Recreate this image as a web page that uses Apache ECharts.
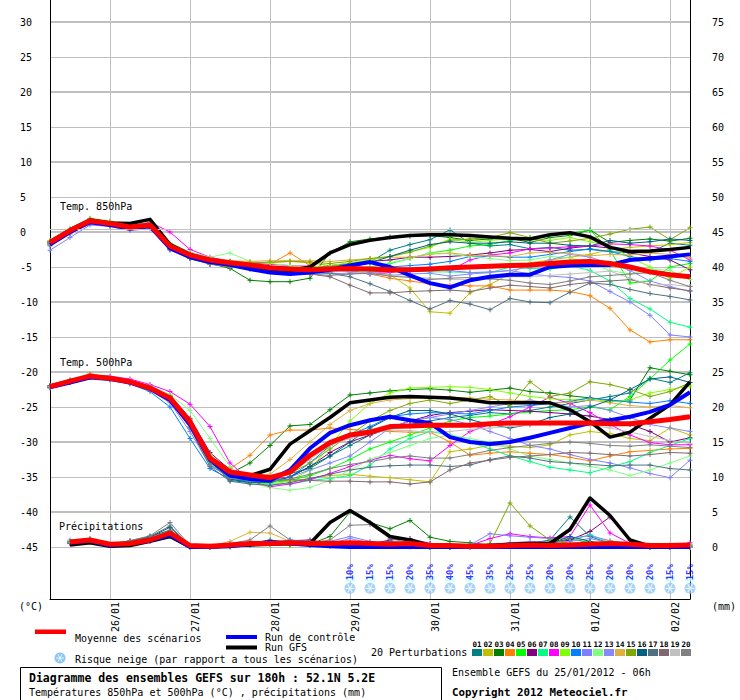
<!DOCTYPE html>
<html><head><meta charset="utf-8">
<script src="https://cdn.jsdelivr.net/npm/echarts@6.0.0/dist/echarts.min.js"></script>
<style>html,body{margin:0;padding:0;background:#fff}#c{width:740px;height:700px}</style>
</head><body><div id="c"></div>
<script>
// ---------- DATA ----------
const dayLabels = ['26/01','27/01','28/01','29/01','30/01','31/01','01/02','02/02'];
const memberNames = ['01','02','03','04','05','06','07','08','09','10','11','12','13','14','15','16','17','18','19','20'];
const memberColors = ['#008080','#c0c000','#008000','#ff8000','#00ff00','#800080','#00ff80','#ff00ff','#80ff00','#0080ff',
                      '#8080ff','#80ff80','#8888ff','#e0b040','#80a800','#006080','#507080','#806870','#c0c0c0','#808080'];
const yTicksLeft = [-45,30];   // labelled range (°C)
const yTicksRight = [0,75];    // labelled range (mm)

const t850Mean    = [-1.5,0.2,1.6,1.2,0.7,1.0,-2.0,-3.3,-4.0,-4.4,-4.7,-5.1,-5.3,-5.4,-5.3,-5.2,-5.3,-5.4,-5.4,-5.3,-5.1,-5.0,-4.9,-4.8,-4.7,-4.5,-4.3,-4.2,-4.5,-5.0,-5.7,-6.1,-6.4];
const t850Control = [-1.8,0.0,1.4,1.0,0.5,0.8,-2.3,-3.6,-4.3,-4.7,-5.3,-5.8,-6.0,-5.8,-5.4,-4.8,-4.3,-5.0,-6.2,-7.3,-7.9,-6.9,-6.4,-6.1,-6.1,-5.0,-4.8,-4.7,-4.7,-4.0,-3.8,-3.5,-3.2];
const t850Gfs     = [-1.4,0.3,1.7,1.3,1.2,1.8,-1.8,-3.2,-4.0,-4.4,-4.8,-5.3,-5.5,-5.0,-3.0,-1.8,-1.2,-0.8,-0.5,-0.4,-0.4,-0.5,-0.7,-0.9,-1.0,-0.4,-0.1,-0.7,-2.2,-2.8,-2.7,-2.5,-2.2];
const t850Members = [
 [-1.3,0.4,1.8,1.3,0.9,1.2,-1.8,-3.0,-4.6,-4.5,-4.8,-5.0,-5.5,-5.2,-5.0,-4.6,-4.3,-2.6,-1.8,-1.1,0.3,-1.6,-2.0,-1.8,-2.4,-2.2,-2.6,-2.5,-2.8,-3.0,-2.9,-1.6,-1.9],
 [-1.6,0.1,1.5,1.1,0.6,0.9,-2.2,-3.4,-4.1,-4.2,-4.3,-4.4,-4.2,-4.4,-4.8,-5.0,-5.5,-6.1,-8.0,-11.4,-11.6,-8.7,-7.5,-6.0,-4.4,-4.0,-3.6,-3.2,-2.5,-2.2,-2.0,-1.8,-1.5],
 [-1.7,0.0,1.4,1.0,0.5,0.8,-2.4,-3.8,-4.5,-5.2,-6.9,-7.1,-7.1,-6.6,-3.0,-1.4,-1.0,-0.7,-0.6,-0.5,-0.8,-1.2,-1.0,-0.9,-1.5,-0.8,-0.5,0.3,-1.5,-1.2,-1.0,-1.3,-0.9],
 [-1.4,0.3,1.7,1.4,0.8,1.1,-1.9,-3.2,-4.1,-4.4,-4.5,-4.6,-3.0,-4.8,-5.2,-5.5,-6.0,-6.6,-7.0,-7.4,-7.6,-7.7,-7.7,-8.3,-8.3,-8.3,-8.5,-9.1,-10.9,-14.0,-15.7,-15.4,-15.4],
 [-1.5,0.2,1.6,1.3,0.8,1.0,-2.1,-3.2,-3.9,-4.3,-4.6,-5.0,-5.3,-5.4,-5.2,-5.3,-5.0,-4.5,-3.8,-3.0,-2.6,-2.0,-1.8,-1.2,-0.8,-0.5,-0.2,0.3,-2.6,-7.3,-7.0,-5.0,-4.5],
 [-1.4,0.3,1.9,1.5,1.0,1.3,-1.7,-3.1,-3.9,-4.3,-4.5,-4.9,-5.0,-5.2,-4.8,-4.5,-4.2,-4.0,-3.6,-3.6,-3.5,-3.3,-3.0,-2.6,-2.5,-2.8,-2.3,-2.0,-2.3,-3.0,-3.5,-4.0,-5.4],
 [-1.6,0.1,1.4,1.1,0.6,0.9,-2.2,-3.5,-4.2,-4.6,-4.9,-5.3,-5.5,-5.6,-5.5,-5.5,-5.6,-5.7,-5.6,-5.7,-5.7,-5.8,-5.8,-5.0,-5.2,-5.3,-4.8,-5.5,-7.0,-9.5,-11.0,-12.9,-13.6],
 [-1.5,0.2,1.6,1.2,0.7,1.4,0.0,-2.5,-3.6,-4.2,-4.5,-4.6,-4.8,-4.9,-5.3,-5.7,-6.0,-5.8,-5.5,-5.2,-5.5,-4.0,-3.3,-3.0,-2.4,-2.3,-2.1,-2.0,-1.7,-1.8,-2.0,-2.6,-4.0],
 [-1.5,0.2,1.7,1.3,0.8,1.1,-1.9,-3.1,-4.0,-4.4,-4.7,-4.9,-5.0,-5.0,-4.8,-4.4,-4.0,-3.5,-2.8,-2.2,-1.0,-1.5,-1.2,-1.0,-1.1,-1.2,-0.8,-1.4,-2.0,-3.6,-5.0,-6.6,-5.0],
 [-1.6,0.1,1.5,1.0,0.5,0.7,-2.4,-3.7,-4.3,-4.8,-5.1,-5.5,-5.9,-5.8,-5.7,-5.6,-5.5,-5.0,-4.8,-4.6,-4.2,-3.5,-3.4,-3.6,-3.6,-3.2,-2.8,-2.4,-2.8,-3.5,-4.0,-3.8,-4.2],
 [-2.6,-0.8,1.0,0.8,0.2,0.5,-2.6,-3.8,-4.5,-4.7,-5.0,-5.4,-5.6,-5.8,-5.9,-6.0,-5.8,-5.6,-5.3,-5.0,-5.5,-5.8,-5.7,-5.5,-6.0,-6.3,-6.5,-7.0,-8.5,-10.0,-11.9,-14.7,-15.0],
 [-1.2,0.5,2.0,1.6,1.0,1.3,-1.5,-2.9,-3.6,-3.0,-4.2,-4.5,-4.8,-5.0,-5.3,-5.5,-5.0,-4.4,-3.8,-3.0,-3.1,-3.5,-3.8,-4.1,-4.0,-3.5,-3.7,-4.5,-5.5,-6.0,-5.3,-5.5,-6.8],
 [-2.0,-0.3,1.3,1.0,0.5,0.8,-2.3,-3.6,-4.4,-4.7,-5.0,-5.3,-5.5,-5.6,-5.6,-5.7,-6.0,-6.2,-6.0,-5.9,-6.3,-6.0,-5.8,-5.5,-5.0,-4.0,-3.2,-3.6,-4.5,-5.5,-7.0,-7.8,-8.5],
 [-1.3,0.4,1.9,1.4,0.9,1.2,-1.8,-3.0,-3.8,-4.1,-4.2,-4.1,-4.1,-4.1,-4.2,-4.0,-3.8,-3.6,-3.6,-3.2,-3.0,-3.3,-3.4,-3.5,-3.0,-2.9,-3.1,-3.4,-3.2,-3.3,-3.0,-3.2,-3.7],
 [-1.4,0.3,1.8,1.4,0.9,1.1,-1.9,-3.2,-4.0,-4.3,-4.4,-4.3,-4.2,-4.3,-4.5,-4.2,-3.8,-3.5,-2.9,-2.0,-1.2,-1.0,-0.8,-0.1,-0.8,-1.6,-1.3,-0.9,-0.3,0.4,0.7,-1.1,0.6],
 [-1.6,0.1,1.5,1.1,0.6,0.9,-2.3,-3.6,-4.4,-4.6,-4.9,-5.3,-5.6,-5.5,-5.4,-5.0,-4.4,-3.5,-2.6,-1.8,-1.4,-1.6,-1.6,-1.4,-1.6,-1.6,-1.9,-2.0,-1.2,-1.6,-1.4,-1.0,-1.2],
 [-1.7,0.0,1.4,1.0,0.5,0.8,-2.4,-3.7,-4.5,-4.9,-5.2,-5.6,-5.8,-5.8,-5.9,-6.4,-7.4,-8.5,-9.8,-11.0,-9.8,-10.3,-11.1,-9.5,-10.0,-10.1,-8.6,-7.3,-7.5,-8.2,-8.8,-9.2,-9.7],
 [-1.8,-0.1,1.3,0.9,0.4,0.7,-2.5,-3.8,-4.6,-4.9,-5.3,-5.6,-5.9,-6.0,-6.4,-7.6,-8.7,-8.7,-8.5,-8.4,-8.3,-8.5,-8.0,-7.6,-7.8,-8.0,-7.5,-7.2,-7.0,-6.8,-7.5,-8.0,-8.4],
 [-1.7,0.0,1.5,1.1,0.6,0.9,-2.2,-3.5,-4.2,-4.6,-4.9,-5.2,-5.4,-5.5,-5.6,-5.7,-5.9,-6.2,-6.4,-6.6,-6.8,-6.8,-6.7,-6.4,-6.4,-6.2,-6.0,-5.8,-5.6,-6.6,-7.6,-7.5,-7.8],
 [-1.9,-0.2,1.2,0.9,0.4,0.7,-2.3,-3.7,-4.6,-5.0,-5.3,-5.6,-5.8,-6.0,-6.2,-6.0,-5.9,-6.3,-6.5,-6.8,-6.6,-6.5,-6.7,-6.9,-7.3,-7.5,-7.0,-6.4,-6.2,-6.0,-5.8,-6.9,-7.8]
];

const t500Mean    = [-22.1,-21.3,-20.6,-20.9,-21.4,-22.3,-23.7,-27.1,-32.3,-34.3,-34.7,-35.1,-34.3,-31.9,-30.1,-29.0,-28.6,-27.8,-27.7,-27.6,-27.6,-27.6,-27.4,-27.3,-27.3,-27.3,-27.3,-27.3,-27.4,-27.4,-27.1,-26.8,-26.4];
const t500Control = [-22.2,-21.5,-20.8,-21.0,-21.5,-22.4,-24.0,-27.5,-32.5,-34.8,-35.3,-35.5,-34.0,-30.9,-28.7,-27.6,-26.9,-26.4,-26.9,-27.3,-29.3,-30.0,-30.3,-30.0,-29.4,-28.7,-28.0,-27.3,-26.9,-26.4,-25.7,-24.7,-22.9];
const t500Gfs     = [-22.0,-21.3,-20.6,-20.9,-21.4,-22.3,-23.8,-27.3,-32.5,-34.5,-34.8,-33.9,-30.3,-28.4,-26.5,-24.4,-24.0,-23.6,-23.5,-23.6,-23.7,-24.0,-24.4,-24.4,-24.4,-24.4,-25.4,-27.1,-29.3,-28.6,-26.6,-24.7,-21.4];
const t500Members = [
 [-22.0,-21.2,-20.7,-20.9,-21.3,-22.2,-23.6,-26.8,-32.8,-35.5,-35.8,-35.2,-34.5,-33.8,-32.0,-30.5,-29.0,-28.0,-27.5,-27.0,-26.5,-26.2,-25.8,-26.0,-25.5,-25.0,-24.5,-24.0,-23.5,-23.0,-20.9,-21.5,-20.1],
 [-22.1,-21.3,-20.2,-20.9,-21.4,-22.3,-23.5,-27.5,-32.0,-34.6,-35.0,-35.4,-35.6,-35.2,-34.8,-34.6,-34.9,-35.1,-35.4,-35.7,-31.4,-31.0,-30.5,-30.6,-30.8,-30.4,-29.0,-28.5,-28.8,-29.5,-29.8,-28.0,-29.0],
 [-22.2,-21.4,-20.7,-21.0,-21.5,-22.4,-23.8,-27.2,-32.5,-34.5,-33.0,-30.5,-27.7,-27.5,-25.4,-23.3,-23.0,-22.7,-22.5,-22.4,-22.6,-22.9,-22.6,-22.3,-22.8,-23.0,-23.4,-23.7,-24.2,-24.0,-19.4,-19.9,-20.4],
 [-22.0,-21.2,-20.6,-20.8,-21.3,-22.2,-23.6,-27.0,-32.0,-33.8,-31.9,-29.0,-28.3,-28.3,-28.0,-28.2,-28.4,-28.5,-28.6,-28.6,-30.0,-31.9,-31.6,-31.4,-31.6,-31.8,-32.2,-32.7,-32.0,-31.4,-31.2,-31.0,-30.9],
 [-22.1,-21.3,-20.6,-20.9,-21.4,-22.3,-23.7,-27.2,-32.6,-34.8,-35.4,-35.8,-35.5,-34.8,-33.8,-32.5,-31.0,-30.0,-29.0,-28.0,-27.0,-26.5,-26.3,-26.0,-25.7,-25.5,-25.4,-25.0,-25.4,-23.5,-21.0,-18.3,-16.0],
 [-22.0,-21.2,-20.5,-20.8,-21.2,-22.0,-23.4,-26.6,-31.5,-34.0,-35.0,-35.3,-35.0,-33.5,-31.5,-30.0,-29.0,-28.0,-27.0,-26.2,-25.8,-25.6,-25.4,-25.5,-25.6,-25.8,-26.0,-26.3,-26.8,-27.5,-28.5,-30.0,-29.4],
 [-22.2,-21.4,-20.7,-21.0,-21.5,-22.4,-24.0,-27.8,-33.0,-35.2,-35.8,-36.0,-36.0,-35.5,-35.2,-34.8,-33.3,-31.0,-29.5,-28.5,-29.0,-30.0,-31.0,-32.0,-32.8,-33.6,-34.0,-34.4,-33.6,-32.8,-31.5,-30.5,-29.5],
 [-22.0,-21.1,-20.4,-20.6,-21.0,-21.8,-22.8,-24.6,-27.8,-33.0,-35.5,-36.4,-36.0,-35.4,-34.5,-33.5,-32.6,-31.9,-32.4,-32.7,-30.5,-28.5,-27.5,-26.4,-25.0,-23.6,-24.5,-25.8,-27.5,-29.0,-30.1,-30.4,-30.4],
 [-22.1,-21.2,-20.5,-20.8,-21.2,-22.1,-23.4,-26.8,-31.8,-34.6,-35.5,-36.2,-35.5,-34.0,-30.5,-27.0,-24.5,-23.0,-22.3,-22.2,-22.1,-22.2,-22.5,-23.0,-23.5,-23.8,-24.0,-23.8,-24.2,-24.0,-23.0,-22.5,-22.0],
 [-22.3,-21.5,-20.8,-21.1,-21.7,-22.8,-25.0,-29.5,-33.8,-35.3,-35.6,-35.6,-35.0,-33.0,-30.5,-29.0,-27.8,-26.4,-26.0,-25.8,-25.9,-26.0,-25.5,-25.0,-24.8,-24.5,-24.2,-23.7,-24.0,-24.3,-24.5,-24.1,-24.5],
 [-22.2,-21.4,-20.8,-21.1,-21.6,-22.6,-24.4,-28.5,-33.4,-35.0,-35.3,-35.5,-35.0,-34.0,-33.0,-32.0,-30.0,-28.0,-27.0,-26.5,-26.8,-27.5,-28.5,-29.5,-30.5,-31.0,-31.8,-32.5,-33.0,-33.7,-34.5,-35.1,-32.6],
 [-22.0,-21.2,-20.6,-20.8,-21.3,-22.0,-23.2,-25.5,-29.5,-33.5,-35.8,-36.5,-36.9,-36.5,-35.5,-34.0,-32.5,-31.5,-30.5,-29.5,-29.0,-29.5,-30.0,-31.0,-32.0,-32.5,-33.0,-33.5,-34.0,-34.8,-34.0,-33.0,-32.0],
 [-22.1,-21.3,-20.7,-21.0,-21.5,-22.4,-23.8,-27.4,-32.8,-34.8,-35.0,-35.2,-34.0,-32.0,-30.0,-29.0,-28.5,-28.0,-27.0,-26.5,-26.0,-25.5,-25.0,-24.5,-24.0,-24.5,-25.0,-24.8,-25.5,-26.5,-27.5,-28.0,-28.5],
 [-22.1,-21.3,-20.6,-20.9,-21.4,-22.3,-23.7,-27.0,-32.0,-34.5,-35.0,-34.6,-32.5,-30.0,-27.5,-25.5,-24.5,-24.0,-23.8,-23.7,-23.6,-23.7,-23.9,-24.0,-24.2,-24.5,-24.3,-24.0,-24.4,-24.8,-25.0,-24.8,-25.1],
 [-22.1,-21.3,-20.6,-20.9,-21.4,-22.2,-23.6,-27.0,-32.2,-34.4,-34.9,-35.0,-34.5,-33.0,-31.0,-29.0,-27.0,-25.5,-24.5,-24.0,-24.5,-24.0,-23.5,-24.9,-21.4,-23.5,-23.0,-21.4,-21.8,-22.5,-23.5,-22.8,-21.5],
 [-22.0,-21.3,-20.6,-20.9,-21.4,-22.2,-23.6,-27.3,-32.8,-35.3,-35.8,-35.8,-35.0,-33.5,-32.0,-30.0,-28.0,-26.5,-25.5,-25.5,-26.0,-26.8,-27.5,-28.0,-27.5,-26.5,-26.0,-25.0,-24.0,-22.5,-21.0,-20.7,-21.5],
 [-22.2,-21.4,-20.7,-21.0,-21.5,-22.4,-24.0,-28.0,-33.5,-35.6,-36.0,-36.2,-35.8,-35.2,-34.6,-34.0,-33.6,-33.4,-33.3,-33.3,-33.5,-33.3,-32.5,-32.0,-32.3,-32.8,-33.0,-33.2,-33.4,-33.3,-33.3,-33.8,-34.0],
 [-22.1,-21.3,-20.6,-20.9,-21.4,-22.3,-23.8,-27.5,-32.8,-34.8,-35.3,-35.5,-35.4,-35.5,-35.6,-35.6,-35.7,-35.7,-36.0,-35.7,-34.0,-33.0,-32.6,-32.2,-32.0,-31.8,-31.5,-31.6,-31.8,-32.0,-31.8,-31.5,-31.6],
 [-22.1,-21.3,-20.6,-20.9,-21.4,-22.3,-23.7,-27.1,-32.4,-34.4,-34.8,-35.0,-34.4,-32.5,-30.5,-29.5,-28.8,-28.3,-28.4,-28.6,-28.5,-28.2,-28.0,-27.8,-27.6,-27.5,-27.4,-27.6,-28.0,-28.6,-29.2,-29.8,-30.2],
 [-22.2,-21.4,-20.7,-21.0,-21.5,-22.5,-24.1,-27.9,-33.2,-35.2,-35.5,-35.6,-35.3,-34.6,-33.8,-33.2,-32.8,-32.3,-32.0,-32.3,-32.3,-31.8,-31.2,-30.8,-30.5,-30.2,-30.0,-30.2,-30.5,-30.6,-30.4,-30.6,-30.8]
];

const precipMean    = [null,0.7,1.0,0.4,0.5,1.0,2.0,0.2,0.1,0.3,0.5,0.5,0.6,0.5,0.5,0.6,0.5,0.4,0.5,0.2,0.2,0.1,0.1,0.2,0.3,0.2,0.3,0.4,0.5,0.4,0.2,0.2,0.3];
const precipControl = [null,0.6,0.9,0.2,0.5,0.9,1.7,0,0,0.1,0.4,0.7,0.5,0.3,0.1,0,0,0,0,0,0,0,0,0,0,0,0,0,0,0,0,0,0];
const precipGfs     = [null,0.3,0.6,0.1,0.2,0.8,1.5,0,0,0.2,0.3,0.4,0.5,0.5,3.5,5.2,3.5,1.5,1.0,0.2,0,0,0.2,0.4,0.5,0.5,2.5,7.0,4.5,1.0,0.1,0,0];
const precipMembers = [
 [null,0.8,1.0,0.3,0.9,1.5,2.4,0.1,0,0.2,0.5,1.0,0.6,0.3,0.2,0.5,0.4,0.3,0.2,0,0,0,0.2,0.3,0.5,1.0,4.3,1.5,0.5,0.2,0.1,0,0.1],
 [null,0.7,1.1,0.3,0.6,1.0,1.8,0.1,0,0.1,0.3,0.4,0.3,0.2,0.1,0.1,0.2,0.1,0,0,0,0,0.1,0.2,0.1,0.2,0.3,0.5,0.6,0.2,0,0,0],
 [null,0.6,0.9,0.2,0.5,0.8,1.5,0,0,0,0.2,0.3,0.2,0.4,1.5,5.0,3.5,2.6,3.8,1.4,0.8,0.6,0.3,0.2,0.3,0.5,1.2,0.6,0.3,0.2,0.1,0,0],
 [null,0.8,1.0,0.3,0.6,1.1,1.9,0.1,0,0.1,0.3,0.5,0.4,0.3,0.2,0.4,0.3,0.2,0.1,0,0,0.1,0.2,0.1,0.2,0.3,0.2,0.4,0.3,0.1,0,0,0.2],
 [null,0.7,1.0,0.2,0.5,0.9,1.6,0,0,0.1,0.2,0.3,0.4,0.6,0.5,0.4,0.3,0.2,0.3,0.2,0.1,0,0.1,0.2,0.3,0.3,0.5,0.8,0.4,0.2,0.1,0,0],
 [null,0.6,0.9,0.3,0.7,1.2,2.0,0.1,0,0.2,0.4,0.6,0.9,1.0,0.5,0.3,0.4,1.0,1.2,0.5,0.2,0.1,0.2,0.3,0.4,0.5,1.0,2.2,4.3,1.0,0.2,0,0],
 [null,0.9,1.2,0.4,0.8,1.3,2.2,0.1,0,0.1,0.2,0.3,0.3,0.2,0.1,0.2,0.3,0.2,0.1,0,0,0.1,0.1,0.2,0.3,0.4,0.8,1.8,0.6,0.3,0.1,0.1,0],
 [null,0.7,1.0,0.3,0.6,1.2,2.2,0.2,0,0.1,0.3,0.4,0.3,0.2,0.2,0.3,0.2,0.1,0.2,0.1,0,0.2,1.2,1.9,1.5,1.3,1.5,6.0,2.0,0.5,0.2,0.1,0.6],
 [null,0.8,1.0,0.2,0.5,0.9,1.7,0,0,0.1,0.2,0.3,0.2,0.3,0.2,0.1,0.2,0.3,0.2,0.1,0,0,0.1,0.1,0.2,0.2,0.3,0.5,0.9,0.3,0.1,0,0],
 [null,0.7,0.9,0.3,0.6,1.0,1.8,0.1,0,0.2,0.4,0.6,1.0,0.8,0.4,0.3,0.2,0.2,0.1,0,0,0.1,0.1,0.2,0.3,0.4,0.4,0.6,0.3,0.1,0,0,0],
 [null,1.0,1.2,0.3,0.8,1.3,2.0,0.1,0,0.3,0.6,0.8,0.7,0.6,0.8,1.5,0.8,0.4,0.3,0.1,0,0.3,1.9,1.6,1.4,1.2,1.3,1.6,0.9,0.4,0.2,0.1,0.2],
 [null,0.9,1.1,0.3,0.6,1.0,1.7,0.1,0,0.1,0.2,0.3,0.3,0.2,0.3,0.2,0.2,0.1,0.1,0,0,0,0.1,0.1,0.2,0.3,0.4,0.6,0.5,0.2,0.1,0,0],
 [null,0.6,0.8,0.2,0.5,0.9,1.6,0.1,0,0.2,0.4,0.5,0.6,0.7,0.5,1.2,0.6,0.3,0.2,0,0,0.1,0.4,0.6,0.8,0.7,0.8,1.2,0.6,0.3,0.1,0,0],
 [null,0.8,1.1,0.4,0.7,1.2,2.1,0.2,0.1,0.8,2.1,2.0,0.8,0.5,0.3,0.2,0.3,0.2,0.1,0,0,0,0.1,0.2,0.2,0.3,0.4,0.5,0.3,0.1,0,0,0],
 [null,0.7,1.0,0.3,0.6,1.0,1.8,0.1,0,0.1,0.3,0.4,0.3,0.2,0.2,0.3,0.2,0.1,0.1,0,0,0.2,0.5,6.3,3.0,1.0,0.5,0.4,0.6,0.2,0.1,0.3,0.4],
 [null,0.6,0.9,0.2,0.7,1.4,2.8,0.1,0,0.2,0.4,0.7,0.5,0.3,0.2,0.4,0.3,0.2,0.1,0,0,0.1,0.2,0.2,0.3,0.5,1.5,0.8,0.3,0.1,0,0,0],
 [null,0.7,0.9,0.3,0.8,1.5,3.0,0.2,0,0.3,0.5,0.8,0.6,0.4,0.3,0.6,0.5,0.8,0.6,0.2,0,0.1,0.2,0.3,0.4,0.3,0.4,0.6,0.4,0.2,0.1,0,0],
 [null,0.5,0.8,0.2,0.5,0.9,1.6,0,0,0.1,0.3,0.5,0.4,0.3,0.4,0.5,0.6,0.3,0.2,0.1,0,0,0.1,0.2,0.2,0.3,0.3,0.4,0.3,0.1,0,0,0],
 [null,0.7,1.0,0.3,0.6,1.0,1.9,0.1,0,0.2,0.3,0.4,0.5,0.6,0.5,0.6,0.5,0.3,0.2,0.1,0,0,0.1,0.2,0.2,0.3,0.4,0.5,0.4,0.2,0.1,0,0],
 [null,0.8,1.1,0.4,0.9,1.6,3.5,0.2,0.1,0.5,1.0,3.0,1.0,0.6,1.0,3.1,3.2,1.2,0.6,0.2,0,0.1,0.2,0.3,0.4,0.4,0.5,0.6,0.4,0.2,0.1,0,0]
];

// snow risk (%), per 6h step (none before 29/01)
const snowRisk = [null,null,null,null,null,null,null,null,null,null,null,null,null,null,null,
                  10,15,15,20,35,40,45,35,25,25,20,20,25,20,20,20,15,15];

// time steps: 25/01/2012 06h, every 6 h, 33 steps
const timeSteps = [];
for (let i = 0; i < 33; i++) {
  const d = new Date(Date.UTC(2012, 0, 25, 6 + 6 * i));
  const p = n => String(n).padStart(2, '0');
  timeSteps.push(p(d.getUTCDate()) + '/' + p(d.getUTCMonth() + 1) + ' ' + p(d.getUTCHours()) + 'h');
}

// ---------- CHART ----------
const FONT = 'DejaVu Sans Mono';
const GRID_COLOR = '#c0c0c0';
const PLUS = 'path://M4,0h2v4h4v2h-4v4h-2v-4h-4v-2h4z';
const STAR_D = 'M10 45H90V55H10Z M34.3 12.9L74.3 82.1L65.7 87.1L25.7 17.9Z M74.3 17.9L34.3 87.1L25.7 82.1L65.7 12.9Z';
const SNOW_ICON_ROW = -50.9, SNOW_BG_ROW = -49.6, SNOW_TEXT_ROW = -48.6;
const isDayTick = (i) => timeSteps[i] && timeSteps[i].endsWith('00h');

const chart = echarts.init(document.getElementById('c'), null, {renderer: 'svg', width: 740, height: 700});

const series = [];
function memberLine(data, color, yAxisIndex) {
  return {type: 'line', data, xAxisIndex: 0, yAxisIndex, symbol: PLUS, symbolSize: 5, showSymbol: true,
    lineStyle: {width: 1, color}, itemStyle: {color}, z: 2, silent: true, animation: false};
}
function mainLine(data, color, width, yAxisIndex, z) {
  return {type: 'line', data, xAxisIndex: 0, yAxisIndex, symbol: 'none', showSymbol: false,
    lineStyle: {width, color, join: 'round'}, itemStyle: {color}, z, silent: true, animation: false};
}
// extra grid line just above 0 °C (double line)
series.push({type: 'line', data: [], xAxisIndex: 0, yAxisIndex: 0, silent: true, z: 1,
  markLine: {silent: true, symbol: 'none', animation: false, label: {show: false},
    lineStyle: {color: GRID_COLOR, width: 1, type: 'solid'}, data: [{yAxis: 0.43}]}});
t850Members.forEach((d, k) => series.push(memberLine(d, memberColors[k], 0)));
t500Members.forEach((d, k) => series.push(memberLine(d, memberColors[k], 0)));
precipMembers.forEach((d, k) => series.push(memberLine(d, memberColors[k], 1)));
series.push(mainLine(t850Gfs, '#000000', 3.5, 0, 3), mainLine(t500Gfs, '#000000', 3.5, 0, 3), mainLine(precipGfs, '#000000', 3.5, 1, 3));
series.push(mainLine(t850Control, '#0000ff', 4, 0, 4), mainLine(t500Control, '#0000ff', 4, 0, 4), mainLine(precipControl, '#0000ff', 4, 1, 4));
series.push(mainLine(t850Mean, '#ff0000', 5, 0, 5), mainLine(t500Mean, '#ff0000', 5, 0, 5), mainLine(precipMean, '#ff0000', 5, 1, 5));

const snowIdx = [];
snowRisk.forEach((v, i) => { if (v != null) snowIdx.push(i); });
series.push({type: 'scatter', xAxisIndex: 0, yAxisIndex: 0, data: snowIdx.map(i => [i, SNOW_BG_ROW]),
  symbol: 'rect', symbolSize: [10, 5], itemStyle: {color: '#ccffff'}, z: 6, clip: false, silent: true, animation: false});
series.push({type: 'scatter', xAxisIndex: 0, yAxisIndex: 0, data: snowIdx.map(i => [i, SNOW_ICON_ROW]),
  symbol: 'circle', symbolSize: 11, itemStyle: {color: '#8cc6f2'}, z: 7, clip: false, silent: true, animation: false});
series.push({type: 'scatter', xAxisIndex: 0, yAxisIndex: 0, data: snowIdx.map(i => [i, SNOW_ICON_ROW]),
  symbol: 'path://' + STAR_D, symbolSize: 9, itemStyle: {color: '#ffffff', opacity: 0.75}, z: 8, clip: false, silent: true, animation: false});
series.push({type: 'scatter', xAxisIndex: 0, yAxisIndex: 0,
  data: snowIdx.map(i => ({value: [i, SNOW_TEXT_ROW], pct: snowRisk[i]})),
  symbol: 'rect', symbolSize: 1, itemStyle: {color: 'rgba(0,0,0,0)'}, z: 9, clip: false, silent: true, animation: false,
  label: {show: true, position: 'inside', rotate: 90, formatter: p => p.data.pct + '%',
    color: '#0000ff', fontFamily: FONT, fontSize: 9, fontWeight: 'bold'}});

// ---------- graphic (annotations & legend) ----------
const txt = (text, x, y, size, bold, align) => ({type: 'text', x, y, z: 100, silent: true,
  style: {text, fontFamily: FONT, fontSize: size, fontWeight: bold ? 'bold' : 'normal', fill: '#000',
          verticalAlign: 'middle', align: align || 'left'}});
const line = (x1, y1, x2, y2, color, w) => ({type: 'line', z: 101, silent: true,
  shape: {x1, y1, x2, y2}, style: {stroke: color, lineWidth: w}});
const graphic = [
  txt('Temp. 850hPa', 60, 206, 10),
  txt('Temp. 500hPa', 60, 362, 10),
  txt('Précipitations', 59, 526, 10),
  txt('(°C)', 19, 606, 10),
  txt('(mm)', 712, 606, 10),
  {type: 'rect', shape: {x: 35, y: 629.5, width: 31, height: 4.5}, style: {fill: '#ff0000'}, z: 100, silent: true},
  txt('Moyenne des scénarios', 75, 638, 10),
  {type: 'rect', shape: {x: 226, y: 635, width: 31, height: 4}, style: {fill: '#0000ff'}, z: 100, silent: true},
  txt('Run de contrôle', 265, 637, 10),
  {type: 'rect', shape: {x: 226, y: 645.5, width: 31, height: 4}, style: {fill: '#000000'}, z: 100, silent: true},
  txt('Run GFS', 265, 647.5, 10),
  {type: 'circle', shape: {cx: 60, cy: 658, r: 5.5}, style: {fill: '#8cc6f2'}, z: 100, silent: true},
  line(56, 658, 64, 658, 'rgba(255,255,255,0.8)', 1),
  line(58, 654.5, 62, 661.5, 'rgba(255,255,255,0.8)', 1),
  line(62, 654.5, 58, 661.5, 'rgba(255,255,255,0.8)', 1),
  txt('Risque neige (par rapport a tous les scénarios)', 75, 659, 10),
  txt('20 Perturbations', 371, 652, 10),
  {type: 'rect', shape: {x: 20.5, y: 667.5, width: 421, height: 40}, style: {fill: 'none', stroke: '#000', lineWidth: 1}, z: 100, silent: true},
  txt('Diagramme des ensembles GEFS sur 180h : 52.1N 5.2E', 29, 677.5, 11.5, true),
  txt('Températures 850hPa et 500hPa (°C) , précipitations (mm)', 29, 692, 10),
  txt('Ensemble GEFS du 25/01/2012 - 06h', 452, 672, 10),
  txt('Copyright 2012 Meteociel.fr', 452, 692, 10.8, true)
];
memberColors.forEach((c, k) => {
  const x = 472 + 11 * k;
  graphic.push({type: 'rect', shape: {x, y: 649, width: 10, height: 7}, style: {fill: c}, z: 100, silent: true});
  graphic.push(txt(memberNames[k], x + 5, 644, 7.5, true, 'center'));
});

const hidden = {show: false};
const option = {
  animation: false,
  backgroundColor: '#ffffff',
  grid: [
    {left: 50, right: 50, top: 0, bottom: 101, outerBoundsMode: 'none', containLabel: false},
    {left: 50, right: 50, top: 22, bottom: 153, outerBoundsMode: 'none', containLabel: false},
    {left: 50, right: 50, top: 22, bottom: 188, outerBoundsMode: 'none', containLabel: false}
  ],
  xAxis: [
    {gridIndex: 0, type: 'category', data: timeSteps, boundaryGap: false,
     axisLine: {show: true, onZero: false, lineStyle: {color: '#000', width: 1}},
     axisTick: {show: false},
     axisLabel: {interval: (i) => isDayTick(i), rotate: 90, verticalAlign: 'top', margin: 3,
       formatter: v => v.slice(0, 5), fontFamily: FONT, fontSize: 10, color: '#000'},
     splitLine: {show: true, interval: (i) => isDayTick(i), lineStyle: {color: GRID_COLOR, width: 1}}},
    {gridIndex: 1, type: 'value', min: 0, max: 1, show: false},
    {gridIndex: 2, type: 'value', min: 0, max: 1, show: false}
  ],
  yAxis: [
    {gridIndex: 0, type: 'value', position: 'left', min: -52.43, max: 33.14,
     axisLine: {show: true, onZero: false, lineStyle: {color: '#000', width: 1}}, axisTick: hidden, axisLabel: hidden, splitLine: hidden},
    {gridIndex: 0, type: 'value', position: 'right', min: -7.43, max: 78.14,
     axisLine: {show: true, onZero: false, lineStyle: {color: '#000', width: 1}}, axisTick: hidden, axisLabel: hidden, splitLine: hidden},
    {gridIndex: 1, type: 'value', position: 'left', min: yTicksLeft[0], max: yTicksLeft[1], interval: 5,
     axisLine: hidden, axisTick: hidden,
     axisLabel: {align: 'left', margin: 30, fontFamily: FONT, fontSize: 10, color: '#000'},
     splitLine: {show: true, lineStyle: {color: GRID_COLOR, width: 1}}},
    {gridIndex: 1, type: 'value', position: 'right', min: yTicksRight[0], max: yTicksRight[1], interval: 5,
     axisLine: hidden, axisTick: hidden,
     axisLabel: {align: 'left', margin: 22, fontFamily: FONT, fontSize: 10, color: '#000'},
     splitLine: hidden},
    {gridIndex: 2, type: 'value', position: 'left', min: -40, max: 30, interval: 10,
     axisLine: hidden, axisTick: hidden, axisLabel: hidden,
     splitLine: {show: true, lineStyle: {color: GRID_COLOR, width: 2}}}
  ],
  graphic,
  series
};
chart.setOption(option);
</script>
</body></html>
